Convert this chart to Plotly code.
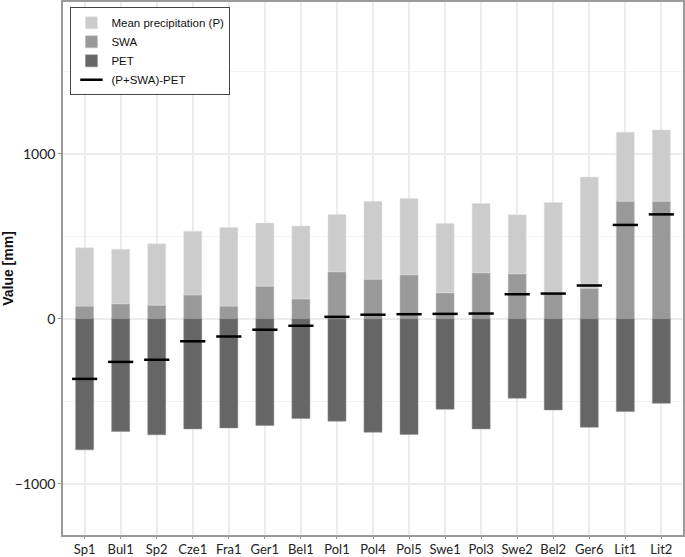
import plotly.graph_objects as go

sites = ["Sp1", "Bul1", "Sp2", "Cze1", "Fra1", "Ger1", "Bel1", "Pol1", "Pol4",
         "Pol5", "Swe1", "Pol3", "Swe2", "Bel2", "Ger6", "Lit1", "Lit2"]

# mean precipitation (P), soil water available (SWA) and potential ET, mm
precip = [353, 331, 372, 386, 477, 382, 441, 347, 472, 462, 420, 420, 357, 550, 673, 418, 432]
swa = [77, 91, 83, 145, 77, 198, 121, 285, 240, 267, 158, 279, 273, 155, 186, 713, 713]
pet = [794, 683, 703, 667, 661, 646, 604, 620, 687, 701, 548, 667, 481, 552, 657, 562, 512]

balance = [p + s - e for p, s, e in zip(precip, swa, pet)]

fig = go.Figure()

fig.add_trace(go.Bar(x=sites, y=swa, name="SWA", marker_color="#999999",
                     marker_line=dict(color="#bdbdbd", width=0.5), legendrank=2))
fig.add_trace(go.Bar(x=sites, y=precip, name="Mean precipitation (P)", marker_color="#cccccc",
                     marker_line=dict(color="#e0e0e0", width=0.5), legendrank=1))
fig.add_trace(go.Bar(x=sites, y=[-v for v in pet], name="PET", marker_color="#666666",
                     marker_line=dict(color="#8a8a8a", width=0.5), legendrank=3))
fig.add_trace(go.Scatter(x=sites, y=balance, mode="markers", name="(P+SWA)-PET",
                         marker=dict(symbol="line-ew", size=18,
                                     line=dict(color="black", width=2.5)),
                         legendrank=4))

fig.update_layout(
    width=685, height=557,
    barmode="relative", bargap=0.5,
    plot_bgcolor="white", paper_bgcolor="white",
    margin=dict(l=63, r=2, t=2, b=22, autoexpand=False),
    font=dict(family="Liberation Sans, Arial", size=12, color="#222222"),
    legend=dict(x=0.012, y=0.99, xanchor="left", yanchor="top",
                bordercolor="#444444", borderwidth=1, bgcolor="white",
                font=dict(size=11.5, color="#111111"), tracegroupgap=0,
                itemwidth=30),
    showlegend=True,
)

fig.update_xaxes(
    range=[-0.6, 16.6], showgrid=True, gridcolor="#ececec", gridwidth=1.5,
    showline=True, linecolor="#9a9a9a", linewidth=1.5, mirror=True,
    ticks="outside", ticklen=2, tickcolor="#9a9a9a",
    tickfont=dict(family="Lato, Open Sans", size=13, color="#222222"),
)
fig.update_yaxes(
    range=[-1310, 1920], dtick=1000, showgrid=True, gridcolor="#ececec", gridwidth=1.5,
    minor=dict(dtick=500, showgrid=True, gridcolor="#f3f3f3", gridwidth=1),
    zeroline=False,
    showline=True, linecolor="#9a9a9a", linewidth=1.5, mirror=True,
    ticks="outside", ticklen=3, tickcolor="#9a9a9a",
    tickfont=dict(family="Lato, Open Sans", size=14, color="#222222"),
    title=dict(text="<b>Value [mm]</b>", font=dict(size=14, color="#111111"), standoff=6),
)

# the page body has a default margin that pushes the figure off the window
fig.write_html("out.html", config={"displayModeBar": False},
               post_script="document.body.style.margin='0';")
